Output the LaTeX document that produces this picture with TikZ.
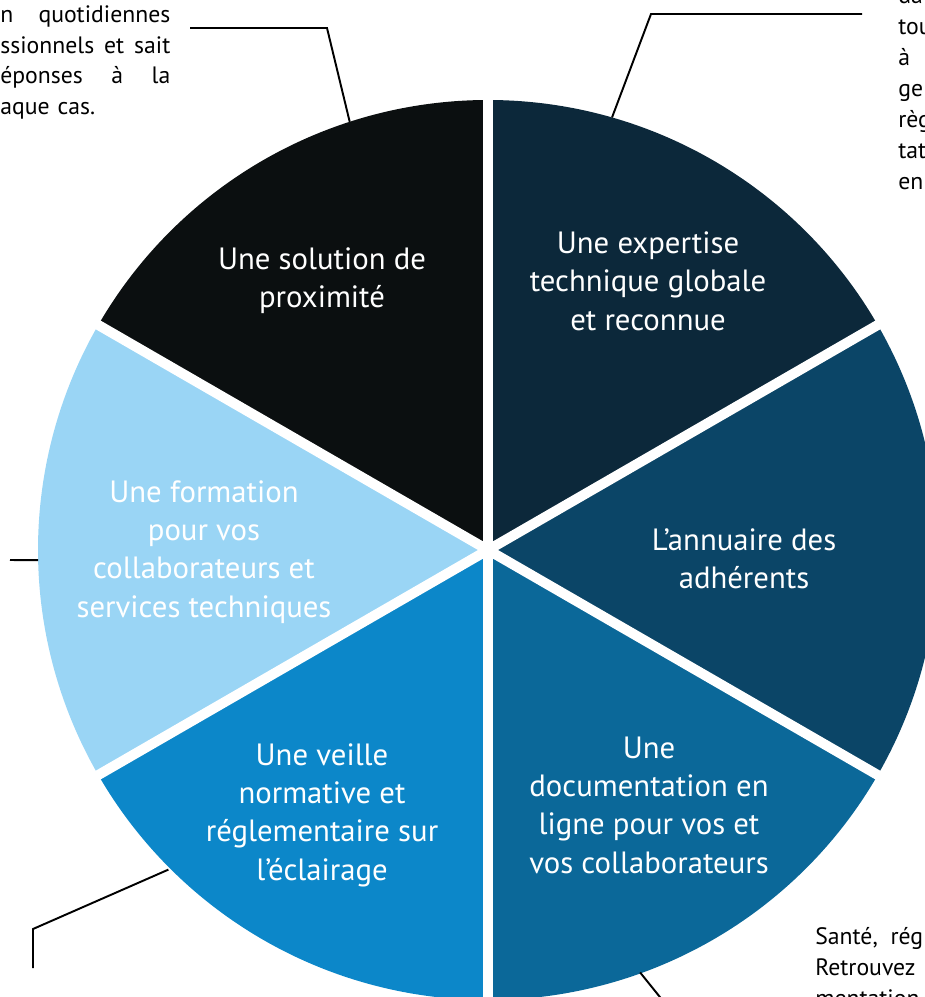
\documentclass[tikz,border=0pt]{standalone}
\usepackage{fontspec}
\setmainfont{PT Sans}
\usetikzlibrary{calc}

\definecolor{pieBlack}{HTML}{0B0F10}
\definecolor{pieNavy}{HTML}{0C283A}
\definecolor{pieDark}{HTML}{0B4567}
\definecolor{pieMid}{HTML}{0B6899}
\definecolor{pieBlue}{HTML}{0C87C9}
\definecolor{pieLight}{HTML}{9AD5F5}

\tikzset{
  sectortext/.style={text=white, align=center, inner sep=0pt,
    font=\fontsize{17.5}{21.8}\selectfont},
  notetext/.style={text=black, inner sep=0pt,
    font=\fontsize{13.5}{17.6}\selectfont},
  callout/.style={line width=1.1pt, line join=miter}
}

\begin{document}
\begin{tikzpicture}[x=0.02cm,y=-0.02cm]
    \useasboundingbox (0,0) rectangle (925,997);
    \clip (0,0) rectangle (925,997);
    \coordinate (c) at (488,550);

    \foreach \a/\b/\col in {-90/-30/pieNavy, -30/30/pieDark, 30/90/pieMid,
                            90/150/pieBlue, 150/210/pieLight, 210/270/pieBlack}
      \fill [\col] (c) -- ($(c)+(\a:450)$) arc (\a:\b:450) -- cycle;
    \foreach \a in {30,90,...,330}
      \draw [white, line width=0.2cm] (c) -- ($(c)+(\a:470)$);

    \node [sectortext] (proximite) at (322,281) {Une solution de\\proximité};
    \node [sectortext] (expertise) at (648,281) {Une expertise\\technique globale\\et reconnue};
    \node [sectortext] (annuaire) at (744,559) {L’annuaire des\\adhérents};
    \node [sectortext] (documentation) at (649,805) {Une\\documentation en\\ligne pour vos et\\vos collaborateurs};
    \node [sectortext] (veille) at (322,815) {Une veille\\normative et\\réglementaire sur\\l’éclairage};
    \node [sectortext] (formation) at (204,552) {Une formation\\pour vos\\collaborateurs et\\services techniques};

    \node [notetext, text width=3.4cm, anchor=north west] (noteTL) at (0,5)
      {n\hfill quotidiennes\\ssionnels\hfill et\hfill sait\\éponses\hfill à\hfill la\\aque cas.};
    \node [notetext, align=left, anchor=north west] (noteTR) at (898,-13)
      {da\\tou\\à\\ge\\règ\\tat\\en};
    \node [notetext, align=left, anchor=north west] (noteBR) at (815,927)
      {Santé,\ \ rég\\Retrouvez\\mentation};

    \coordinate (tlEnd) at (190,28);
    \coordinate (tlPie) at ($(c)+(252.1:450)$);
    \coordinate (trEnd) at (862,14);
    \coordinate (trPie) at ($(c)+(286:450)$);
    \coordinate (lEnd) at (10,560);
    \coordinate (lPie) at ($(c)+(178.7:450)$);
    \coordinate (blEnd) at (33,968);
    \coordinate (blPie) at ($(c)+(135:452)$);
    \coordinate (brEnd) at (672,1012);
    \coordinate (brPie) at ($(c)+(70.2:449)$);

    \draw [callout] (tlEnd) -- (327,28) -- (tlPie);
    \draw [callout] (trEnd) -- (651,14) -- (trPie);
    \draw [callout] (lEnd) -- (lPie);
    \draw [callout] (blEnd) -- (33,929) -- (blPie);
    \draw [callout] (brPie) -- (brEnd);
\end{tikzpicture}
\end{document}
